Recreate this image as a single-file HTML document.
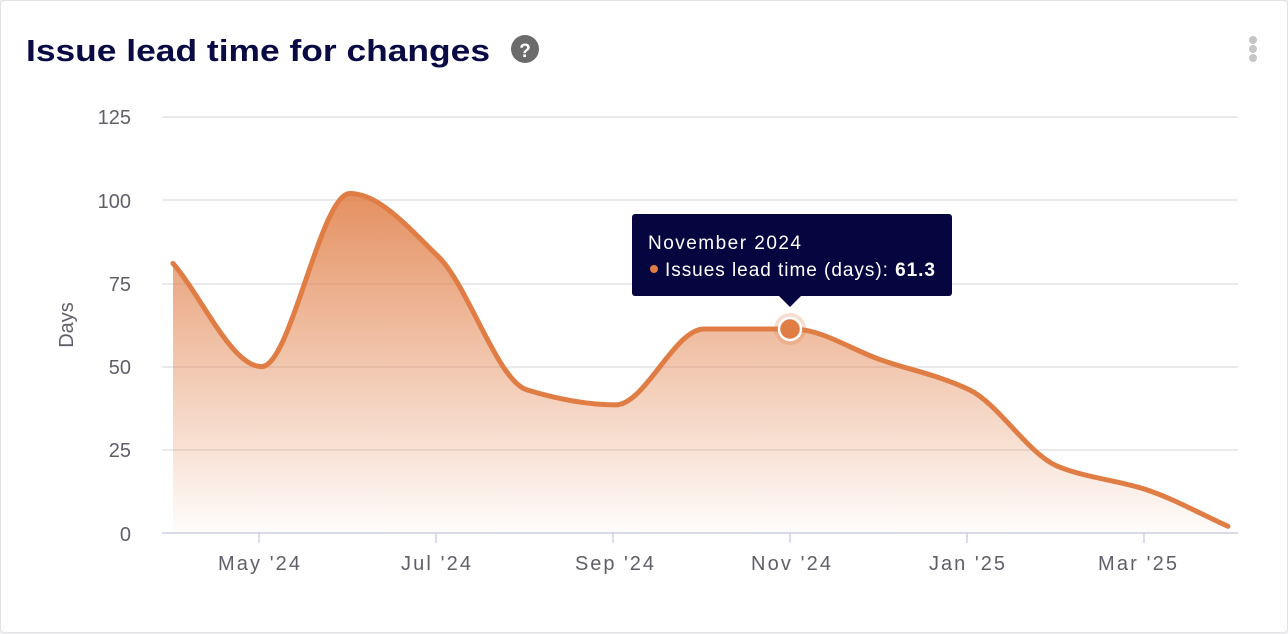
<!DOCTYPE html>
<html><head><meta charset="utf-8"><style>
body{margin:0;width:1288px;height:634px;background:#f0f0f2;font-family:"Liberation Sans",sans-serif;overflow:hidden}
.card{position:absolute;left:0;top:0;width:1286px;height:631px;background:#fff;border:1px solid #e2e2e6;border-radius:4px}
</style></head><body>
<div class="card"></div>
<svg width="1288" height="634" style="position:absolute;left:0;top:0">
<defs><linearGradient id="g" x1="0" y1="0" x2="0" y2="1">
<stop offset="0" stop-color="#e07d45" stop-opacity="0.85"/><stop offset="1" stop-color="#e07d45" stop-opacity="0.02"/></linearGradient></defs>
<text x="26" y="61" font-size="31" font-weight="bold" fill="#0a0a45" textLength="464" lengthAdjust="spacingAndGlyphs">Issue lead time for changes</text>
<circle cx="525" cy="49" r="14" fill="#6b6b6b"/>
<text x="525" y="57" font-size="19" font-weight="bold" fill="#fff" text-anchor="middle">?</text>
<circle cx="1253" cy="40" r="4" fill="#c6c6c6"/><circle cx="1253" cy="49" r="4" fill="#c6c6c6"/><circle cx="1253" cy="58" r="4" fill="#c6c6c6"/>
<g stroke="#e4e4e8" stroke-width="1.5">
<line x1="162" x2="1238" y1="117" y2="117"/><line x1="162" x2="1238" y1="200" y2="200"/><line x1="162" x2="1238" y1="284" y2="284"/><line x1="162" x2="1238" y1="367" y2="367"/><line x1="162" x2="1238" y1="450" y2="450"/>
</g>
<line x1="162" x2="1238" y1="533" y2="533" stroke="#ccd0e4" stroke-width="1.5"/>
<g stroke="#ccd0e4" stroke-width="1.5"><line x1="259" x2="259" y1="533" y2="543"/><line x1="436" x2="436" y1="533" y2="543"/><line x1="613" x2="613" y1="533" y2="543"/><line x1="790" x2="790" y1="533" y2="543"/><line x1="967" x2="967" y1="533" y2="543"/><line x1="1144" x2="1144" y1="533" y2="543"/></g>
<g font-size="20" fill="#5f5f6a" text-anchor="end">
<text x="131" y="124">125</text><text x="131" y="208">100</text><text x="131" y="291">75</text><text x="131" y="374">50</text><text x="131" y="457">25</text><text x="131" y="541">0</text></g>
<g font-size="20" fill="#5f5f6a">
<text x="218" y="570" textLength="82">May '24</text><text x="401" y="570" textLength="70">Jul '24</text><text x="575" y="570" textLength="79">Sep '24</text><text x="751" y="570" textLength="80">Nov '24</text><text x="929" y="570" textLength="76">Jan '25</text><text x="1098" y="570" textLength="79">Mar '25</text></g>
<text transform="translate(73,325) rotate(-90)" font-size="20" fill="#5f5f6a" text-anchor="middle">Days</text>
<path id="area" fill="url(#g)"/>
<path id="line" fill="none" stroke="#e07d45" stroke-width="5" stroke-linejoin="round" stroke-linecap="round"/>
<circle cx="790" cy="329" r="16" fill="#e07d45" opacity="0.25"/>
<circle cx="790" cy="329" r="11" fill="#e07d45" stroke="#fff" stroke-width="2.5"/>
<rect x="632" y="214" width="320" height="82" rx="3" fill="#05053f"/>
<path d="M779 296 L790 307 L801 296Z" fill="#05053f"/>
<text x="648" y="249" font-size="19" fill="#fff" textLength="153">November 2024</text>
<circle cx="654" cy="269" r="4" fill="#e07d45"/>
<text x="665" y="276" font-size="19" fill="#fff" textLength="270">Issues lead time (days): <tspan font-weight="bold">61.3</tspan></text>
</svg>
<script>
var xs=[],vs=[81,50,102,83,43,38.5,61.3,61.3,52,43,20,13,2];
for(var i=0;i<vs.length;i++)xs.push(173+88.5*i);
xs[12]=1228;
var ys=vs.map(function(v){return 533-v*3.328});
var n=xs.length,d=[],m=[];
for(i=0;i<n-1;i++)d.push((ys[i+1]-ys[i])/(xs[i+1]-xs[i]));
m[0]=d[0];m[n-1]=d[n-2];
for(i=1;i<n-1;i++){if(d[i-1]*d[i]<=0)m[i]=0;else m[i]=2/(1/d[i-1]+1/d[i]);}
var p="M"+xs[0]+" "+ys[0];
for(i=0;i<n-1;i++){var h=(xs[i+1]-xs[i])/3;p+=" C"+(xs[i]+h)+" "+(ys[i]+m[i]*h)+" "+(xs[i+1]-h)+" "+(ys[i+1]-m[i+1]*h)+" "+xs[i+1]+" "+ys[i+1];}
document.getElementById("line").setAttribute("d",p);
document.getElementById("area").setAttribute("d",p+" L"+xs[n-1]+" 533 L"+xs[0]+" 533Z");
</script>
</body></html>
